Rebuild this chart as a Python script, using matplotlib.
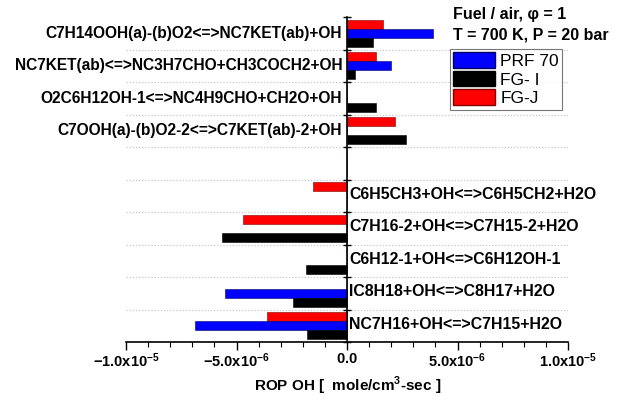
import matplotlib
matplotlib.use("Agg")
import matplotlib.pyplot as plt
import numpy as np
from matplotlib.ticker import MultipleLocator, FixedLocator
from matplotlib.patches import Patch

plt.rcParams['font.family'] = ['Liberation Sans', 'DejaVu Sans']
plt.rcParams['mathtext.fontset'] = 'custom'
plt.rcParams['mathtext.rm'] = 'Liberation Sans'
plt.rcParams['mathtext.bf'] = 'Liberation Sans:bold'

reactions = [
    "C7H14OOH(a)-(b)O2<=>NC7KET(ab)+OH",
    "NC7KET(ab)<=>NC3H7CHO+CH3COCH2+OH",
    "O2C6H12OH-1<=>NC4H9CHO+CH2O+OH",
    "C7OOH(a)-(b)O2-2<=>C7KET(ab)-2+OH",
    "",
    "C6H5CH3+OH<=>C6H5CH2+H2O",
    "C7H16-2+OH<=>C7H15-2+H2O",
    "C6H12-1+OH<=>C6H12OH-1",
    "IC8H18+OH<=>C8H17+H2O",
    "NC7H16+OH<=>C7H15+H2O",
]
prf70 = [3.88e-6, 2.00e-6, 0.0, 0.0, 0.0, 0.0, 0.0, 0.0, -5.51e-6, -6.87e-6]
fg_i = [1.16e-6, 0.34e-6, 1.29e-6, 2.68e-6, 0.0, 0.0, -5.66e-6, -1.85e-6, -2.43e-6, -1.82e-6]
fg_j = [1.65e-6, 1.29e-6, 0.0, 2.18e-6, 0.0, -1.56e-6, -4.69e-6, 0.0, 0.0, -3.63e-6]
series_names = ["PRF 70", "FG- I", "FG-J"]
x_ticks = [-1e-5, -5e-6, 0.0, 5e-6, 1e-5]
x_tick_labels = [r"$\mathbf{-1.0x10^{-5}}$", r"$\mathbf{-5.0x10^{-6}}$", r"$\mathbf{0.0}$",
                 r"$\mathbf{5.0x10^{-6}}$", r"$\mathbf{1.0x10^{-5}}$"]

fig = plt.figure(figsize=(6.18, 4.0), dpi=100)
ax = fig.add_axes([126/618, 1-342/400, (568-126)/618, (342-17)/400])

pos = np.arange(len(reactions))
h = 0.27
ax.barh(pos - 0.28, fg_j, height=h, color='#ff0000', edgecolor='#800000', linewidth=0.4)
ax.barh(pos, prf70, height=h, color='#0000ff', edgecolor='#000060', linewidth=0.4)
ax.barh(pos + 0.28, fg_i, height=h, color='#000000', edgecolor='#000000', linewidth=0.4)

ax.set_xlim(-1e-5, 1e-5)
ax.set_ylim(len(reactions) - 0.5, -0.5)

for b in np.arange(0.5, len(reactions) - 0.5, 1.0):
    ax.axhline(b, color='#c8c8c8', linestyle=(0, (1, 1.5)), linewidth=0.9, zorder=0)

ax.spines['top'].set_visible(False)
ax.spines['right'].set_visible(False)
ax.spines['left'].set_position(('data', 0))
ax.spines['left'].set_linewidth(1.2)
ax.spines['bottom'].set_linewidth(1.2)

ax.yaxis.set_major_locator(FixedLocator(np.arange(-0.5, len(reactions), 1.0)))
ax.tick_params(axis='y', direction='inout', length=6, width=1.0, labelleft=False)
ax.xaxis.set_major_locator(FixedLocator(x_ticks))
ax.set_xticklabels(x_tick_labels, fontsize=10.5)
ax.xaxis.set_minor_locator(MultipleLocator(1e-6))
ax.tick_params(axis='x', which='major', direction='out', length=6, width=1.0, pad=1)
ax.tick_params(axis='x', which='minor', direction='out', length=3.5, width=0.8)

for i, name in enumerate(reactions):
    if not name:
        continue
    total = prf70[i] + fg_i[i] + fg_j[i]
    if total >= 0:
        ax.annotate(name, xy=(0, i), xytext=(-3.5, 0), textcoords='offset points',
                    ha='right', va='center', fontsize=11.2, fontweight='bold')
    else:
        ax.annotate(name, xy=(0, i), xytext=(1.5, 1), textcoords='offset points',
                    ha='left', va='center', fontsize=11.4, fontweight='bold')

fig.text(347.5/618, 1-386/400, r"ROP OH [  mole/cm$^{\mathbf{3}}$-sec ]", fontsize=11,
         fontweight='bold', ha='center', va='center')

fig.text(453/618, 1-15/400, "Fuel / air, φ = 1", fontsize=11.5, fontweight='bold', va='center', ha='left')
fig.text(453/618, 1-35/400, "T = 700 K, P = 20 bar", fontsize=11.5, fontweight='bold', va='center', ha='left')

handles = [Patch(facecolor='#0000ff', edgecolor='#000060'),
           Patch(facecolor='#000000', edgecolor='#000000'),
           Patch(facecolor='#ff0000', edgecolor='#800000')]
leg = fig.legend(handles, series_names, loc='upper left', bbox_to_anchor=(450/618, 1-49/400),
                 fontsize=12.5, frameon=True, fancybox=False, handlelength=2.4, handleheight=1.0,
                 labelspacing=0.1, borderpad=0.2, handletextpad=0.3, borderaxespad=0)
leg.get_frame().set_edgecolor('#555555')
leg.get_frame().set_linewidth(0.8)

fig.savefig("out.png", dpi=100)
